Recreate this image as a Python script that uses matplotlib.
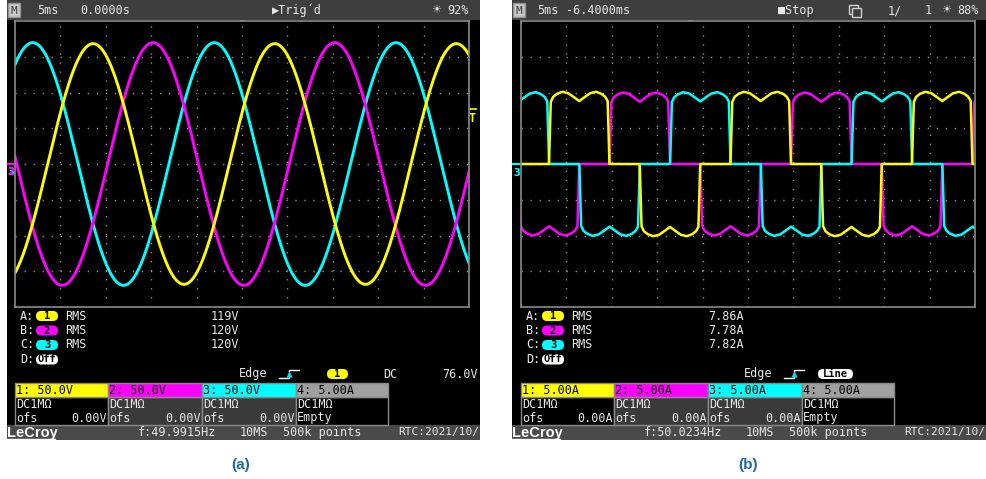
import numpy as np
import matplotlib.pyplot as plt
from matplotlib.patches import Rectangle, FancyBboxPatch

W, H = 987, 479

# (a) voltages, read-outs of the scope
volt_rms = [119, 120, 120]           # V, ch 1..3
volt_scale = 50.0                    # V/div
volt_freq = 49.9915                  # Hz
volt_peak_ms = [8.6, 15.2, 1.95]     # first positive peak on screen (ms)

# (b) currents
curr_rms = [7.86, 7.78, 7.82]        # A
curr_scale = 5.0                     # A/div
curr_freq = 50.0234                  # Hz
curr_rise_ms = [3.08, 9.75, 16.42]   # start of the positive block (ms)
# one 120 deg conduction block (fraction of block, A)
block_u = [0.0, 0.03, 0.07, 0.13, 0.22, 0.32, 0.42, 0.5, 0.58, 0.68, 0.78, 0.87, 0.93, 0.97, 1.0]
block_a = [0.0, 8.7, 9.4, 9.8, 10.1, 9.9, 9.3, 8.8, 9.3, 9.9, 10.1, 9.8, 9.4, 8.8, 0.0]

ch_colors = ['#ffff00', '#ff00ff', '#00ffff', '#a0a0a0']

# texts of the two screens
top_a = [('5ms', 37), ('0.0000s', 80), ('\u25b6Trig\u00b4d', 272), ('92%', 447)]
top_b = [('5ms', 537), ('-6.4000ms', 566), ('\u25a0Stop', 778), ('1/', 888), ('1', 925), ('88%', 957)]
meas_a = ['119V', '120V', '120V']
meas_b = ['7.86A', '7.78A', '7.82A']
head_a = ['1: 50.0V', '2: 50.0V', '3: 50.0V', '4: 5.00A']
head_b = ['1: 5.00A', '2: 5.00A', '3: 5.00A', '4: 5.00A']
ofs_a = ['0.00V', '0.00V', '0.00V']
ofs_b = ['0.00A', '0.00A', '0.00A']
freq_a = 'f:49.9915Hz'
freq_b = 'f:50.0234Hz'

MONO = ['DejaVu Sans Mono', 'DejaVu Sans']

fig = plt.figure(figsize=(W / 100, H / 100), dpi=100)
fig.patch.set_facecolor('white')
bg = fig.add_axes([0, 0, 1, 1])
bg.set_xlim(0, W)
bg.set_ylim(H, 0)
bg.axis('off')


def txt(x, y, s, c='#e8e8e8', size=8.5, ha='left', **kw):
    bg.text(x, y, s, color=c, fontsize=size, ha=ha, va='center', family=MONO, **kw)


def pill(x, y, w, fc, label):
    bg.add_patch(FancyBboxPatch((x, y - 5), w, 10, boxstyle='round,pad=0,rounding_size=5',
                                fc=fc, ec='none'))
    txt(x + w / 2, y, label, c='black', ha='center', size=7.5, weight='bold')


def scope(x0, gx, top, meas, heads, ofs, freq, trig_x, trig_c, edge_x, edge_pill):
    fw = W - x0 if x0 > 500 else 473
    # frame
    bg.add_patch(Rectangle((x0, 0), fw, 440, fc='black', ec='none'))
    bg.add_patch(Rectangle((x0, 0), fw, 20, fc='#3e3e3e', ec='none'))
    bg.add_patch(Rectangle((x0, 425), fw, 15, fc='#4a4a4a', ec='none'))
    # top bar
    bg.add_patch(Rectangle((x0 + 1, 3), 12, 14, fc='#c8c8c8', ec='#909090'))
    txt(x0 + 7, 10.5, 'M', c='#404040', ha='center', size=8)
    for s, x in top:
        txt(x, 10.5, s)
    sun = [t for t in top if t[0].endswith('%')][0][1] - 16
    bg.text(sun, 10.5, '\u2600', color='#e0e0e0', fontsize=8, ha='left', va='center',
            family=['DejaVu Sans'])
    bg.plot(trig_x, 23, marker='v', ms=5, color=trig_c, mec='none')

    # measurements
    rows = [316, 330.5, 345, 359.5]
    for i, lab in enumerate('ABCD'):
        txt(gx + 5, rows[i], lab + ':')
        if i < 3:
            pill(gx + 21, rows[i], 22, ch_colors[i], str(i + 1))
            txt(gx + 50, rows[i], 'RMS')
        else:
            pill(gx + 21, rows[i], 22, 'white', 'Off')
    vx = 211 if gx < 500 else 708
    for i, v in enumerate(meas):
        txt(vx, rows[i], v)

    # trigger line
    ey = 374
    txt(edge_x, ey, 'Edge')
    sx = edge_x + 40
    bg.plot([sx, sx + 10, sx + 10, sx + 20], [ey + 4, ey + 4, ey - 4, ey - 4], color='white', lw=1)
    bg.plot(sx + 10, ey, marker='^', ms=5, color='#00e0ff', mec='none')
    edge_pill()

    # channel boxes
    cols = [gx, gx + 93, gx + 187, gx + 281, gx + 373]
    for i in range(4):
        a, b = cols[i], cols[i + 1]
        body = '#3a3a3a' if i in (1, 2) else 'black'
        bg.add_patch(Rectangle((a, 397), b - a, 28, fc=body, ec='#8a8a8a', lw=1))
        bg.add_patch(Rectangle((a, 383), b - a, 14, fc=ch_colors[i], ec='#8a8a8a', lw=1))
        txt(a + 1, 390, heads[i], c='black')
        txt(a + 1, 404, 'DC1M\u03a9')
        if i < 3:
            txt(a + 1, 418, 'ofs')
            txt(b - 1, 418, ofs[i], ha='right')
        else:
            txt(a + 1, 418, 'Empty')

    # status bar
    bg.text(x0, 432.5, 'LeCroy', color='white', fontsize=10.5, ha='left', va='center',
            family=['Liberation Sans'], weight='bold')
    bg.plot([x0, x0 + 48], [439, 439], color='white', lw=1)
    txt(gx + 123, 432.5, freq)
    txt(gx + 225, 432.5, '10MS')
    txt(gx + 268, 432.5, '500k points')
    txt(gx + 383, 432.5, 'RTC:2021/10/', size=8.0)

    # screen with grid
    ax = fig.add_axes([gx / W, 1 - 307 / H, 454 / W, 286 / H])
    ax.set_facecolor('black')
    ax.set_xlim(0, 50)
    ax.set_ylim(-4, 4)
    ax.set_xticks([])
    ax.set_yticks([])
    for sp in ax.spines.values():
        sp.set_color('#8a8a8a')
        sp.set_linewidth(1.2)
    for xv in range(5, 50, 5):
        ax.axvline(xv, color='#9a9a9a', lw=1.0, ls=(0, (0.9, 5.6)))
    for yv in range(-3, 4):
        ax.axhline(yv, color='#9a9a9a', lw=1.0, ls=(0, (0.9, 5.6)))
    return ax


# (a)
def pill_a():
    pill(327, 374, 21, '#ffff00', '1')
    txt(383, 374, 'DC')
    txt(442, 374, '76.0V')


ax_a = scope(7, 15, top_a, meas_a, head_a, ofs_a, freq_a, 242, '#ffff00', 239, pill_a)
t = np.linspace(0, 50, 3000)
for i in [2, 1, 0]:
    amp = volt_rms[i] * np.sqrt(2) / volt_scale
    ax_a.plot(t, amp * np.cos(2 * np.pi * volt_freq * (t - volt_peak_ms[i]) / 1000),
              color=ch_colors[i], lw=2.1)
bg.plot([8, 14], [164, 164], color='#ff00ff', lw=1.5)
bg.text(11, 172, '3', color='#00ffff', fontsize=7, ha='center', va='center', weight='bold')
bg.text(10.5, 172, '2', color='#ff00ff', fontsize=7, ha='center', va='center', weight='bold')
bg.plot([468, 476], [109, 109], color='#ffff00', lw=1.2)
bg.text(472, 118, 'T', color='#ffff00', fontsize=8.5, ha='center', va='center', weight='bold',
        family=MONO)


# (b)
def pill_b():
    bg.add_patch(FancyBboxPatch((818, 369), 35, 10, boxstyle='round,pad=0,rounding_size=5',
                                fc='white', ec='none'))
    txt(835.5, 374, 'Line', c='black', ha='center', size=7.5, weight='bold')


ax_b = scope(512, 521, top_b, meas_b, head_b, ofs_b, freq_b, 690, 'white', 744, pill_b)
bg.add_patch(Rectangle((849, 5), 9, 9, fc='none', ec='#d0d0d0', lw=1))
bg.add_patch(Rectangle((852, 8), 9, 9, fc='#3e3e3e', ec='#d0d0d0', lw=1))
T = 1000 / curr_freq
Wb = T / 3
bu = np.array(block_u)
for i in [1, 2, 0]:
    ba = np.array(block_a) * curr_rms[i] / curr_rms[0] / curr_scale
    ts, ys = [], []
    for k in range(-2, 4):
        t0 = curr_rise_ms[i] + k * T
        ts += list(t0 + bu * Wb) + list(t0 + T / 2 + bu * Wb)
        ys += list(ba) + list(-ba)
    ax_b.plot(ts, ys, color=ch_colors[i], lw=1.8)
bg.plot([513, 520], [164, 164], color='#00ffff', lw=1.5)
bg.text(517, 173, '3', color='#00ffff', fontsize=7, ha='center', va='center', weight='bold')

# captions
for s, x in [('(a)', 241), ('(b)', 748)]:
    bg.text(x, 465, s, color='#1f6aa5', fontsize=11, ha='center', va='center', weight='bold',
            family=['Liberation Sans'])

fig.savefig('out.png', dpi=100, facecolor='white')
